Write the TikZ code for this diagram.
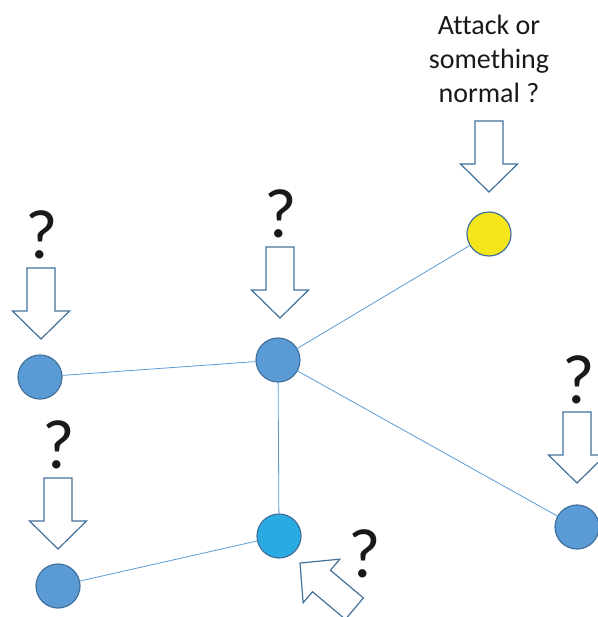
\documentclass[tikz,border=0pt]{standalone}
\usepackage{fontspec}
\setmainfont{Carlito}[Ligatures=CommonOff]
\definecolor{nodeblue}{HTML}{5B9BD5}
\definecolor{nodeedge}{HTML}{41719C}
\definecolor{nodeyellow}{HTML}{F4E61A}
\definecolor{nodecyan}{HTML}{29ABE2}
\definecolor{linkblue}{HTML}{5B9BD5}
\tikzset{
  host/.style={circle, draw=nodeedge, line width=1.2pt, minimum size=44pt, inner sep=0pt},
  link/.style={draw=linkblue, line width=0.8pt},
  arrowline/.style={draw=nodeedge, fill=white, line width=1.2pt, line join=miter},
  qmark/.style={font=\fontsize{70}{70}\selectfont, inner sep=0pt, text=black!90},
  blockarr/.pic={
    \path[arrowline] (-14,-71) -- (14,-71) -- (14,-28) -- (28.5,-28) -- (0,0)
      -- (-28.5,-28) -- (-14,-28) -- cycle;
  }
}
\begin{document}
\begin{tikzpicture}[x=1pt,y=-1pt]
\useasboundingbox (0,0) rectangle (597,617);
% hosts
\node[host, fill=nodeyellow] (y) at (489,234) {};
\node[host, fill=nodeblue] (c) at (278,360) {};
\node[host, fill=nodeblue] (l) at (40,377) {};
\node[host, fill=nodecyan] (k) at (279,536) {};
\node[host, fill=nodeblue] (r) at (577,527) {};
\node[host, fill=nodeblue] (b) at (58,586) {};
% links
\draw[link] (c) -- (y);
\draw[link] (c) -- (l);
\draw[link] (c) -- (r);
\draw[link] (c) -- (k);
\draw[link] (k) -- (b);
% block arrows
\pic at (489,192) {blockarr};
\pic at (41,339) {blockarr};
\pic at (280,318) {blockarr};
\pic at (577,483) {blockarr};
\pic at (58,549) {blockarr};
\pic[rotate=-130] at (300,563) {blockarr};
% labels
\node[align=center, font=\fontsize{28}{34}\selectfont, text=black!90] (t) at (489,59) {Attack or\\something\\normal ?};
\node[qmark] (q1) at (42,235) {?};
\node[qmark] (q2) at (281,214) {?};
\node[qmark] (q3) at (579,380) {?};
\node[qmark] (q4) at (59,445) {?};
\node[qmark] (q5) at (365,554) {?};
\end{tikzpicture}
\end{document}
